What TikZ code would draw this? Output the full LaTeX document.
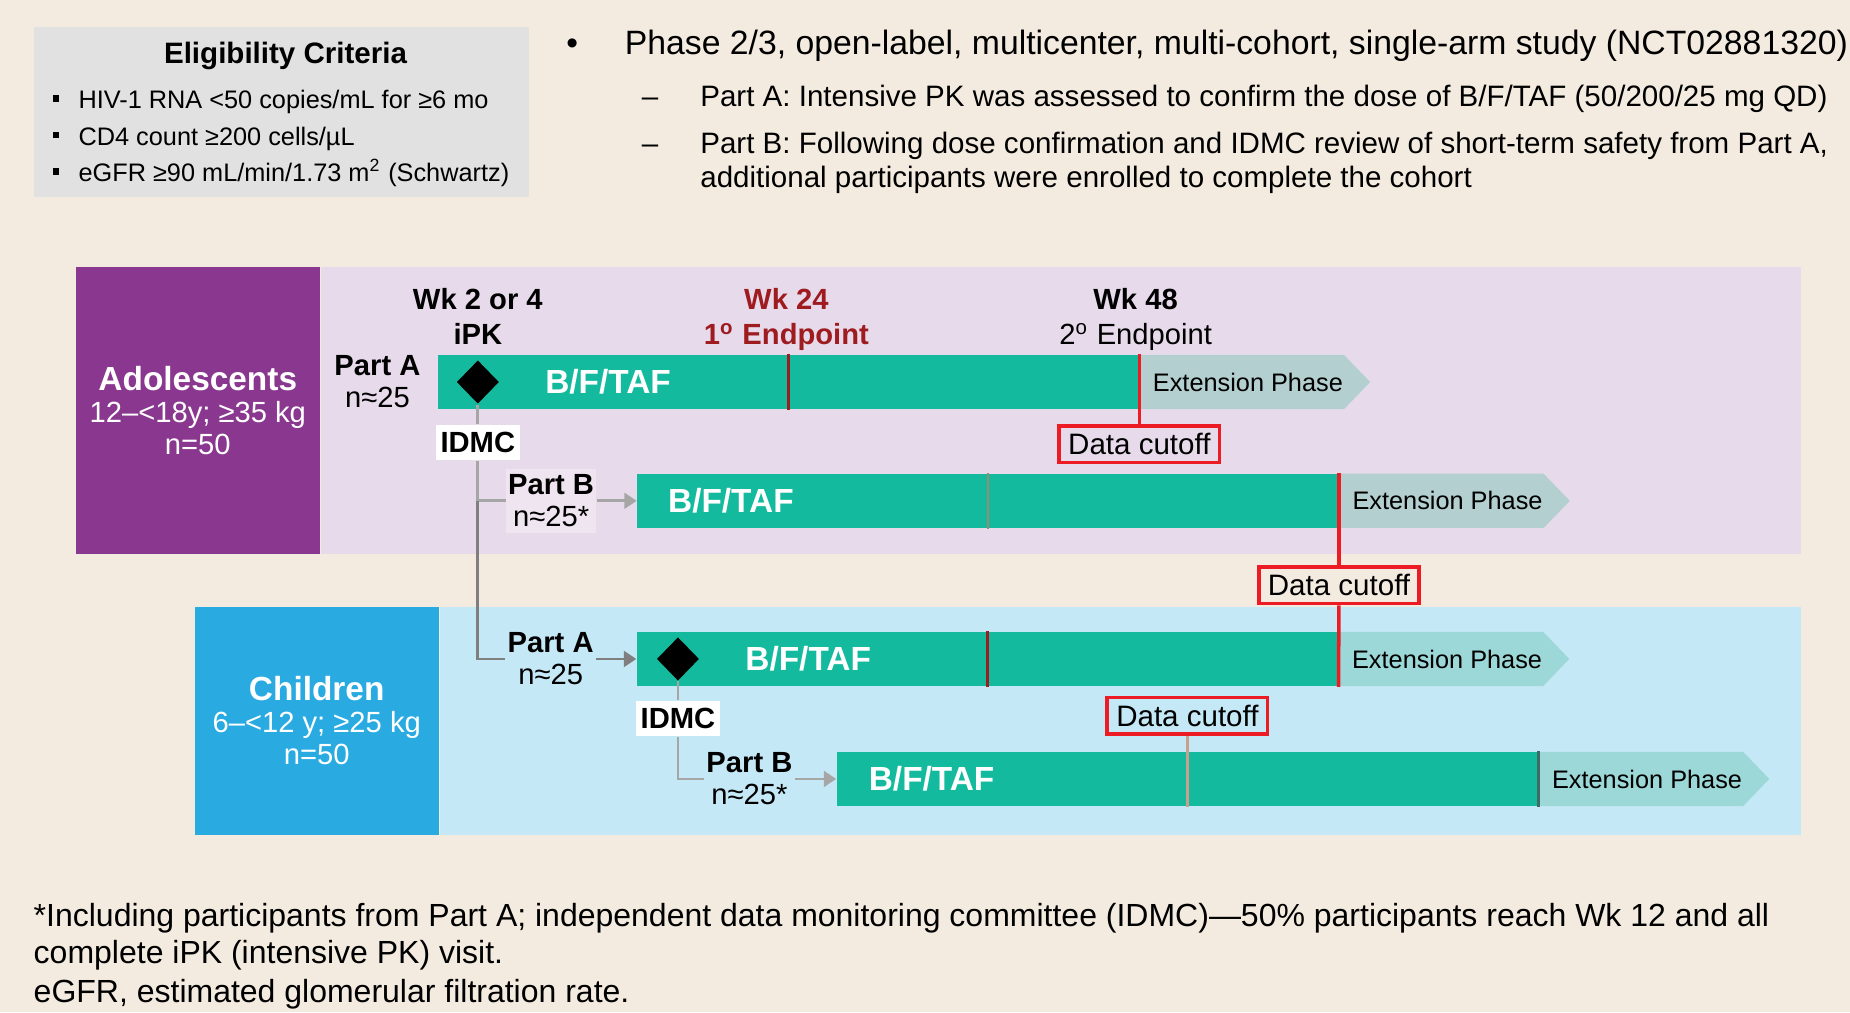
\documentclass[tikz,border=0pt]{standalone}
\usepackage{fontspec}
\setmainfont{Liberation Sans}
\usepackage{tikz}
\usetikzlibrary{
    arrows.meta,
    shapes.geometric,
    shapes.symbols,
    positioning,
    calc
}
\usepackage{xcolor}
\definecolor{paper}{HTML}{F3EBDF}
\definecolor{eliggray}{HTML}{E1E1E1}
\definecolor{adolpurple}{HTML}{8A3790}
\definecolor{adollight}{HTML}{E7DBEB}
\definecolor{adollabel}{HTML}{EFE5F1}
\definecolor{childblue}{HTML}{29ABE2}
\definecolor{childlight}{HTML}{C5E8F7}
\definecolor{drugteal}{HTML}{14BA9E}
\definecolor{extgray}{HTML}{B3CFCF}
\definecolor{extteal}{HTML}{9DD8D8}
\definecolor{darkred}{HTML}{9E1B20}
\definecolor{cutred}{HTML}{ED1C24}
\definecolor{linkdark}{HTML}{7F7F7F}
\definecolor{linklight}{HTML}{A6A6A6}
\definecolor{tickbrown}{HTML}{9A8A70}
\definecolor{ticktan}{HTML}{C9A08E}
\definecolor{tickslate}{HTML}{3E6B63}
\newlength{\unitpx}
\setlength{\unitpx}{0.0118cm}
\newcommand{\fbig}{\fontsize{9.5pt}{10pt}\selectfont}
\newcommand{\fmid}{\fontsize{8.3pt}{9.1pt}\selectfont}
\newcommand{\fweek}{\fontsize{8.3pt}{9.9pt}\selectfont}
\newcommand{\fsub}{\fontsize{8.4pt}{10pt}\selectfont}
\newcommand{\fsmall}{\fontsize{7.2pt}{8.6pt}\selectfont}
\newcommand{\fnote}{\fontsize{9.1pt}{10.7pt}\selectfont}
\newcommand{\sqbullet}{\makebox[22\unitpx][l]{\raisebox{5.6\unitpx}{\rule{5.6\unitpx}{5.6\unitpx}}}}
\tikzstyle{panel} = [
    rectangle,
    inner sep=0pt
]
\tikzstyle{cohort} = [
    inner sep=0pt,
    text=white,
    align=center,
    font=\fmid
]
\tikzstyle{crit} = [
    anchor=base west,
    inner sep=0pt,
    font=\fsmall
]
\tikzstyle{design} = [
    anchor=base west,
    inner sep=0pt,
    font=\fsub
]
\tikzstyle{note} = [
    anchor=base west,
    inner sep=0pt,
    font=\fnote
]
\tikzstyle{drugbar} = [
    rectangle,
    fill=drugteal,
    inner sep=0pt,
    minimum width=594\unitpx,
    minimum height=46\unitpx,
    anchor=west
]
\tikzstyle{extphase} = [
    signal,
    signal to=east,
    signal pointer angle=92,
    inner sep=0pt,
    minimum width=195\unitpx,
    minimum height=46\unitpx,
    anchor=west,
    font=\fsmall
]
\tikzstyle{dose} = [
    diamond,
    fill=black,
    inner sep=0pt,
    minimum width=36\unitpx,
    minimum height=37\unitpx
]
\tikzstyle{druglabel} = [
    inner sep=0pt,
    text=white,
    font=\fbig\bfseries
]
\tikzstyle{idmc} = [
    rectangle,
    fill=white,
    inner sep=0pt,
    minimum width=71\unitpx,
    minimum height=30\unitpx,
    font=\fmid\bfseries
]
\tikzstyle{partlabel} = [
    rectangle,
    inner sep=0pt,
    minimum width=76\unitpx,
    minimum height=54\unitpx,
    align=center,
    font=\fmid
]
\tikzstyle{weeklabel} = [
    anchor=north,
    inner sep=0pt,
    align=center,
    font=\fweek
]
\tikzstyle{cutoff} = [
    rectangle,
    draw=cutred,
    line width=1pt,
    inner sep=0pt,
    minimum width=136\unitpx,
    minimum height=31\unitpx,
    font=\fsub
]
\tikzstyle{cutline} = [
    draw=cutred,
    line width=1pt
]
\tikzstyle{link} = [
    ->,
    >={Triangle[length=3.5pt, width=4.4pt]},
    line width=0.8pt
]
\tikzstyle{plainlink} = [
    line width=0.8pt
]
\begin{document}
\begin{tikzpicture}[x=0.0118cm, y=-0.0118cm]
        \fill[paper] (0,0) rectangle (1568,858);
        \useasboundingbox (0,0) rectangle (1568,858);

        % Eligibility criteria
        \node[panel, fill=eliggray, minimum width=419.5\unitpx, minimum height=144\unitpx, anchor=north west] (elig) at (28,22) {};
        \node[anchor=base, inner sep=0pt, font=\fsub\bfseries] (eligtitle) at (242,53.7) {Eligibility Criteria};
        \node[crit] (crit1) at (44,91.8) {\sqbullet HIV-1 RNA <50 copies/mL for ≥6 mo};
        \node[crit] (crit2) at (44,122.9) {\sqbullet CD4 count ≥200 cells/µL};
        \node[crit] (crit3) at (44,154) {\sqbullet eGFR ≥90 mL/min/1.73 m\textsuperscript{2} (Schwartz)};

        % Study design
        \node[anchor=base, inner sep=0pt, font=\fbig] (dot) at (485,46.6) {•};
        \node[design, font=\fontsize{9.6pt}{10pt}\selectfont] (phase) at (529,46.6) {Phase 2/3, open-label, multicenter, multi-cohort, single-arm study (NCT02881320)};
        \node[anchor=base, inner sep=0pt, font=\fsub] (dashA) at (551,90) {–};
        \node[design] (partAtxt) at (593,90) {Part A: Intensive PK was assessed to confirm the dose of B/F/TAF (50/200/25 mg QD)};
        \node[anchor=base, inner sep=0pt, font=\fsub] (dashB) at (551,130.5) {–};
        \node[design] (partBtxt) at (593,130.5) {Part B: Following dose confirmation and IDMC review of short-term safety from Part A,};
        \node[design] (partBmore) at (593,159) {additional participants were enrolled to complete the cohort};

        % Cohorts
        \node[panel, fill=adolpurple, minimum width=206.7\unitpx, minimum height=243.5\unitpx, anchor=north west] (adol) at (63.7,225.5) {};
        \node[panel, fill=adollight, minimum width=1254\unitpx, minimum height=243.5\unitpx, right=0pt of adol] (adolband) {};
        \node[cohort] (adoltxt) at (adol) {{\fbig\bfseries Adolescents}\\12–<18y; ≥35 kg\\n=50};
        \node[panel, fill=childblue, minimum width=206.7\unitpx, minimum height=193.2\unitpx, anchor=north west] (child) at (164.5,513.6) {};
        \node[panel, fill=childlight, minimum width=1153.5\unitpx, minimum height=193.2\unitpx, right=0pt of child] (childband) {};
        \node[cohort] (childtxt) at (child) {{\fbig\bfseries Children}\\6–<12 y; ≥25 kg\\n=50};

        % Treatment bars
        \node[drugbar] (barAA) at (370.5,323.8) {};
        \node[drugbar] (barAB) at (539.7,424.5) {};
        \node[drugbar] (barCA) at (539.3,558.5) {};
        \node[drugbar] (barCB) at (708.8,660.2) {};
        \node[extphase, fill=extgray, right=0pt of barAA] (extAA) {\hspace*{10\unitpx}Extension Phase};
        \node[extphase, fill=extgray, right=0pt of barAB] (extAB) {\hspace*{10\unitpx}Extension Phase};
        \node[extphase, fill=extteal, right=0pt of barCA] (extCA) {\hspace*{10\unitpx}Extension Phase};
        \node[extphase, fill=extteal, right=0pt of barCB] (extCB) {\hspace*{10\unitpx}Extension Phase};

        \draw[line width=1pt, darkred] (barAA.north) -- (barAA.south);
        \draw[line width=0.6pt, tickbrown] (barAB.north) -- (barAB.south);
        \draw[line width=1pt, darkred] (barCA.north) -- (barCA.south);
        \draw[line width=0.8pt, tickslate] (barCB.north east) -- (barCB.south east);

        \node[dose] (diaAA) at (405,323.8) {};
        \node[dose] (diaCA) at (574.6,558.5) {};
        \node[druglabel, right=38\unitpx of diaAA] (drugAA) {B/F/TAF};
        \node[druglabel, right=26\unitpx of barAB.west] (drugAB) {B/F/TAF};
        \node[druglabel, right=38\unitpx of diaCA] (drugCA) {B/F/TAF};
        \node[druglabel, right=27\unitpx of barCB.west] (drugCB) {B/F/TAF};

        % Timepoints
        \node[weeklabel] (wk2) at (405,244) {\textbf{Wk 2 or 4}\\\textbf{iPK}};
        \node[weeklabel, text=darkred] (wk24) at (666.5,244) {\textbf{Wk 24}\\\textbf{1\textsuperscript{o} Endpoint}};
        \node[weeklabel] (wk48) at (962.5,244) {\textbf{Wk 48}\\2\textsuperscript{o} Endpoint};

        % Parts and IDMC
        \node[partlabel, minimum height=0pt, left=12\unitpx of barAA] (partAA) {\textbf{Part A}\\n≈25};
        \node[idmc, below=16.5\unitpx of diaAA] (idmcA) {IDMC};
        \node[partlabel, fill=adollabel, left=34\unitpx of barAB] (partAB) {\textbf{Part B}\\n≈25*};
        \node[partlabel, fill=childlight, left=34\unitpx of barCA] (partCA) {\textbf{Part A}\\n≈25};
        \node[idmc, below=16\unitpx of diaCA] (idmcC) {IDMC};
        \node[partlabel, fill=childlight, left=35\unitpx of barCB] (partCB) {\textbf{Part B}\\n≈25*};

        \coordinate (splitA) at (diaAA |- barAB);
        \coordinate (turnA) at (diaAA |- barCA);
        \coordinate (splitC) at (diaCA |- barCB);

        \draw[plainlink, linklight] (diaAA) -- (idmcA) -- (splitA) -- (partAB);
        \draw[link, linklight] (partAB) -- (barAB);
        \draw[plainlink, linkdark] (splitA) -- (turnA) -- (partCA);
        \draw[link, linkdark] (partCA) -- (barCA);
        \draw[plainlink, linklight] (diaCA) -- (idmcC) -- (splitC) -- (partCB);
        \draw[link, linklight] (partCB) -- (barCB);

        % Data cutoff
        \node[cutoff, below=12\unitpx of barAA.south east] (dcA) {Data cutoff};
        \node[cutoff, below=31\unitpx of barAB.south east] (dcB) {Data cutoff};
        \node[cutoff, above=13\unitpx of barCB.north] (dcC) {Data cutoff};

        \draw[cutline] (barAA.north east) -- (dcA);
        \draw[cutline] (barAB.north east) -- (dcB);
        \draw[cutline] (dcB) -- (barCA.south east);
        \draw[line width=0.8pt, ticktan] (dcC) -- (barCB.south);

        % Footnotes
        \node[note] (note1) at (28,785.4) {*Including participants from Part A; independent data monitoring committee (IDMC)—50\% participants reach Wk 12 and all};
        \node[note] (note2) at (28,816.5) {complete iPK (intensive PK) visit.};
        \node[note] (note3) at (28,849.7) {eGFR, estimated glomerular filtration rate.};
    \end{tikzpicture}
\end{document}
